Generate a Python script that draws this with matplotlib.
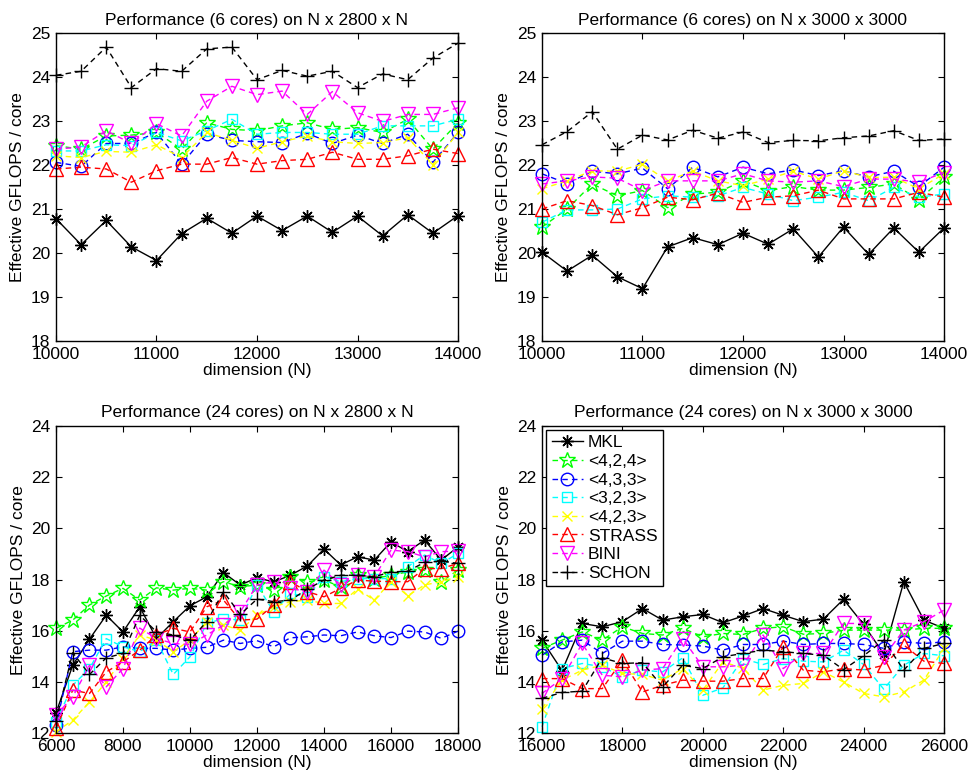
import numpy as np
import matplotlib
matplotlib.use("Agg")
import matplotlib.pyplot as plt

plt.rcParams['font.family'] = ['Liberation Sans', 'DejaVu Sans']
plt.rcParams['font.size'] = 12.5

labels = ["MKL", "<4,2,4>", "<4,3,3>", "<3,2,3>", "<4,2,3>", "STRASS", "BINI", "SCHON"]

# 6 cores, N x 2800 x N
n_6c = list(range(10000, 14001, 250))
mkl_6a = [20.78, 20.19, 20.74, 20.14, 19.83, 20.44, 20.79, 20.45, 20.84, 20.51, 20.84, 20.47, 20.84, 20.39, 20.87, 20.45, 20.85]
a424_6a = [22.44, 22.36, 22.66, 22.68, 22.74, 22.36, 22.96, 22.81, 22.78, 22.89, 22.96, 22.81, 22.85, 22.74, 23.04, 22.36, 22.96]
a433_6a = [22.06, 21.97, 22.49, 22.49, 22.74, 22.02, 22.70, 22.56, 22.53, 22.51, 22.72, 22.49, 22.68, 22.49, 22.70, 22.06, 22.74]
a323_6a = [22.32, 22.32, 22.46, 22.44, 22.74, 22.55, 22.78, 23.04, 22.70, 22.74, 22.74, 22.70, 22.70, 22.89, 22.89, 22.89, 23.04]
a423_6a = [22.21, 22.17, 22.31, 22.29, 22.46, 22.17, 22.74, 22.56, 22.38, 22.53, 22.66, 22.53, 22.49, 22.51, 22.62, 22.01, 22.74]
strass_6a = [21.91, 21.95, 21.91, 21.61, 21.87, 22.02, 22.02, 22.17, 22.02, 22.10, 22.13, 22.29, 22.13, 22.13, 22.21, 22.36, 22.26]
bini_6a = [22.36, 22.41, 22.78, 22.49, 22.94, 22.66, 23.45, 23.79, 23.60, 23.68, 23.15, 23.67, 23.19, 22.99, 23.15, 23.15, 23.30]
schon_6a = [24.04, 24.13, 24.68, 23.76, 24.19, 24.13, 24.64, 24.68, 23.94, 24.15, 24.02, 24.13, 23.76, 24.07, 23.94, 24.43, 24.77]

# 6 cores, N x 3000 x 3000
mkl_6b = [20.02, 19.59, 19.95, 19.46, 19.19, 20.14, 20.35, 20.19, 20.45, 20.20, 20.55, 19.91, 20.59, 19.97, 20.57, 20.02, 20.57]
a424_6b = [20.59, 21.00, 21.57, 21.30, 21.42, 21.03, 21.34, 21.38, 21.64, 21.42, 21.51, 21.43, 21.43, 21.49, 21.57, 21.21, 21.72]
a433_6b = [21.80, 21.58, 21.86, 21.80, 21.93, 21.46, 21.95, 21.73, 21.95, 21.80, 21.89, 21.76, 21.87, 21.73, 21.86, 21.51, 21.95]
a323_6b = [20.70, 20.98, 20.98, 21.00, 21.23, 21.30, 21.27, 21.30, 21.49, 21.34, 21.19, 21.27, 21.38, 21.19, 21.49, 21.27, 21.34]
a423_6b = [21.46, 21.64, 21.87, 21.86, 22.02, 21.64, 21.86, 21.64, 21.53, 21.68, 21.86, 21.68, 21.87, 21.72, 21.72, 21.46, 21.80]
strass_6b = [21.00, 21.19, 21.08, 20.87, 21.03, 21.27, 21.21, 21.36, 21.15, 21.27, 21.30, 21.43, 21.23, 21.23, 21.23, 21.38, 21.27]
bini_6b = [21.57, 21.64, 21.73, 21.70, 21.42, 21.64, 21.64, 21.64, 21.80, 21.64, 21.61, 21.64, 21.51, 21.68, 21.68, 21.61, 21.83]
schon_6b = [22.46, 22.76, 23.21, 22.36, 22.68, 22.57, 22.79, 22.61, 22.75, 22.51, 22.56, 22.55, 22.62, 22.66, 22.78, 22.56, 22.59]

# 24 cores, N x 2800 x N
n_24a = list(range(6000, 18001, 500))
mkl_24a = [12.80, 14.66, 15.68, 16.61, 15.96, 16.94, 15.70, 16.36, 16.98, 17.33, 18.27, 17.79, 18.07, 17.91, 18.17, 18.53, 19.19, 18.57, 18.89, 18.76, 19.47, 19.09, 19.54, 18.76, 19.28]
a424_24a = [16.10, 16.42, 17.01, 17.36, 17.66, 17.20, 17.68, 17.59, 17.66, 17.59, 17.92, 17.72, 17.79, 17.59, 18.11, 17.92, 17.98, 17.72, 18.17, 18.04, 18.17, 18.30, 18.37, 17.92, 18.37]
a433_24a = [12.32, 15.19, 15.25, 15.25, 15.38, 15.32, 15.32, 15.25, 15.32, 15.36, 15.64, 15.51, 15.62, 15.38, 15.73, 15.77, 15.84, 15.81, 15.96, 15.81, 15.74, 15.99, 15.96, 15.71, 15.99]
a323_24a = [12.45, 13.88, 14.53, 15.70, 15.38, 15.19, 15.64, 14.30, 14.99, 16.29, 16.48, 16.42, 17.79, 16.74, 17.46, 17.33, 18.11, 17.92, 18.04, 18.04, 18.04, 18.50, 18.96, 18.63, 19.02]
a423_24a = [12.06, 12.52, 13.23, 14.01, 14.92, 15.84, 15.64, 15.19, 15.64, 16.36, 16.23, 16.03, 16.61, 16.94, 17.14, 17.20, 17.07, 17.07, 17.63, 17.20, 17.92, 17.37, 17.79, 17.92, 18.11]
strass_24a = [12.20, 13.69, 13.56, 14.40, 14.79, 15.25, 15.84, 16.10, 15.96, 16.94, 17.20, 16.42, 16.46, 17.01, 17.92, 17.53, 17.33, 17.66, 17.98, 17.94, 17.92, 17.92, 18.43, 18.43, 18.63]
bini_24a = [12.71, 13.43, 14.66, 13.82, 14.53, 16.11, 15.70, 15.51, 15.47, 15.84, 16.23, 16.74, 17.79, 17.92, 17.66, 17.53, 18.37, 17.79, 18.17, 18.11, 19.15, 19.09, 18.89, 19.09, 19.11]
schon_24a = [12.50, 15.15, 14.30, 14.95, 15.12, 16.61, 15.96, 15.84, 15.64, 16.36, 17.53, 16.64, 17.24, 17.14, 17.20, 17.63, 17.98, 18.17, 18.17, 18.11, 18.30, 18.33, 18.67, 18.72, 18.63]

# 24 cores, N x 3000 x 3000
n_24b = list(range(16000, 26001, 500))
mkl_24b = [15.64, 14.45, 16.29, 16.16, 16.36, 16.87, 16.42, 16.55, 16.64, 16.32, 16.58, 16.87, 16.61, 16.36, 16.46, 17.23, 16.25, 15.10, 17.92, 16.42, 16.10]
a424_24b = [15.32, 15.64, 15.96, 15.64, 16.16, 15.90, 15.84, 16.10, 15.77, 15.90, 15.86, 16.10, 16.16, 15.87, 15.90, 16.03, 16.03, 16.03, 16.03, 16.10, 16.10]
a433_24b = [15.05, 15.57, 15.64, 15.12, 15.60, 15.60, 15.47, 15.45, 15.41, 15.25, 15.47, 15.47, 15.60, 15.47, 15.51, 15.51, 15.47, 15.32, 15.57, 15.51, 15.57]
a323_24b = [12.26, 14.53, 14.73, 14.60, 14.21, 14.47, 14.40, 14.95, 13.49, 13.78, 14.92, 14.69, 14.92, 14.82, 14.79, 15.25, 14.69, 13.73, 14.66, 15.12, 15.03]
a423_24b = [12.97, 14.08, 14.47, 14.66, 14.34, 14.30, 14.08, 14.53, 13.69, 14.79, 14.55, 13.69, 13.88, 13.95, 14.40, 14.01, 13.56, 13.43, 13.62, 14.08, 15.32]
strass_24b = [14.14, 14.14, 13.75, 13.75, 14.86, 13.62, 13.88, 14.08, 14.04, 14.04, 14.14, 14.14, 15.38, 14.47, 14.40, 14.53, 14.47, 14.66, 15.45, 14.82, 14.73]
bini_24b = [13.56, 14.14, 15.51, 14.27, 14.21, 14.47, 14.53, 15.70, 14.60, 14.60, 14.66, 15.84, 14.53, 15.12, 15.12, 16.29, 16.29, 14.99, 16.03, 16.36, 16.81]
schon_24b = [13.37, 13.60, 13.65, 14.95, 14.73, 14.76, 13.82, 14.66, 14.53, 14.99, 15.12, 15.25, 15.19, 15.12, 15.05, 14.49, 15.03, 15.64, 14.47, 15.32, 15.51]

# MATLAB-ish line specs
styles = [
    dict(color='k', ls='-', marker=(8, 2, 0), ms=9),
    dict(color=(0, 1, 0), ls='--', marker='*', ms=12, mfc='none'),
    dict(color=(0, 0, 1), ls='--', marker='o', ms=9, mfc='none'),
    dict(color=(0, 1, 1), ls='--', marker='s', ms=7.5, mfc='none'),
    dict(color=(1, 1, 0), ls='--', marker='x', ms=7.5),
    dict(color=(1, 0, 0), ls='--', marker='^', ms=10, mfc='none'),
    dict(color=(1, 0, 1), ls='--', marker='v', ms=10, mfc='none'),
    dict(color='k', ls='--', marker='+', ms=10),
]


def draw_panel(ax, x, series, title, xlim, xticks, ylim, yticks, legend=False):
    for s, st, lab in zip(series, styles, labels):
        kw = dict(st)
        if kw['ls'] == '--':
            kw['dashes'] = (4, 3)
        ax.plot(x, s, lw=1.0, mew=1.0, label=lab, clip_on=False, **kw)
    ax.set_xlim(xlim)
    ax.set_ylim(ylim)
    ax.set_xticks(xticks)
    ax.set_yticks(yticks)
    ax.tick_params(direction='in', top=True, right=True, length=4, labelsize=12.5, pad=4)
    for sp in ax.spines.values():
        sp.set_linewidth(1.0)
    ax.set_title(title, fontsize=12.5, pad=6)
    ax.set_xlabel("dimension (N)", fontsize=12.5, labelpad=1)
    ax.set_ylabel("Effective GFLOPS / core", fontsize=12.5, labelpad=4)
    if legend:
        ax.legend(loc='upper left', fontsize=12.5, numpoints=1, handlelength=1.8,
                  handletextpad=0.3, labelspacing=0.2, borderpad=0.3,
                  borderaxespad=0.25, fancybox=False, framealpha=1, edgecolor='k')


fig = plt.figure(figsize=(9.72, 7.77), dpi=100)
ax1 = fig.add_axes([0.0576, 0.5611, 0.4136, 0.3964])
ax2 = fig.add_axes([0.5576, 0.5611, 0.4136, 0.3964])
ax3 = fig.add_axes([0.0576, 0.0560, 0.4136, 0.3961])
ax4 = fig.add_axes([0.5576, 0.0560, 0.4136, 0.3961])

draw_panel(ax1, n_6c, [mkl_6a, a424_6a, a433_6a, a323_6a, a423_6a, strass_6a, bini_6a, schon_6a],
           "Performance (6 cores) on N x 2800 x N", (10000, 14000), range(10000, 14001, 1000),
           (18, 25), range(18, 26))
draw_panel(ax2, n_6c, [mkl_6b, a424_6b, a433_6b, a323_6b, a423_6b, strass_6b, bini_6b, schon_6b],
           "Performance (6 cores) on N x 3000 x 3000", (10000, 14000), range(10000, 14001, 1000),
           (18, 25), range(18, 26))
draw_panel(ax3, n_24a, [mkl_24a, a424_24a, a433_24a, a323_24a, a423_24a, strass_24a, bini_24a, schon_24a],
           "Performance (24 cores) on N x 2800 x N", (6000, 18000), range(6000, 18001, 2000),
           (12, 24), range(12, 25, 2))
draw_panel(ax4, n_24b, [mkl_24b, a424_24b, a433_24b, a323_24b, a423_24b, strass_24b, bini_24b, schon_24b],
           "Performance (24 cores) on N x 3000 x 3000", (16000, 26000), range(16000, 26001, 2000),
           (12, 24), range(12, 25, 2), legend=True)

fig.savefig("out.png", dpi=100)
